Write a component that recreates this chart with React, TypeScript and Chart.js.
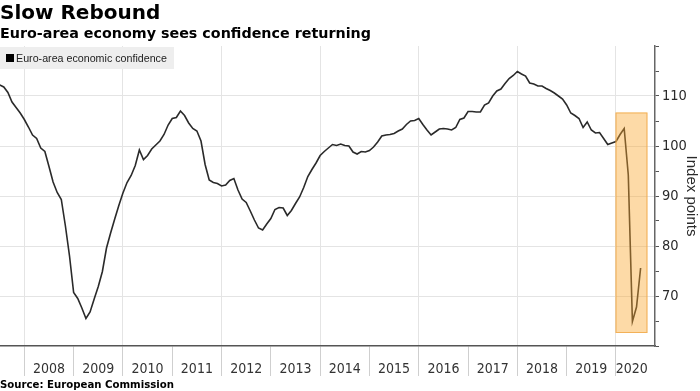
import React, { useEffect, useRef } from 'react';
import { Chart, registerables } from 'chart.js';

Chart.register(...registerables);

// Monthly Euro-area economic sentiment, Jun 2007 .. Jun 2020
const FIRST_POSITION = -6; // Jun 2007 plotted at its month end, in months from 1 Jan 2008
const confidence: number[] = [
  112.2, 111.8, 110.7, 108.8, 107.7, 106.6, 105.3,
  103.8, 102.2, 101.5, 99.6, 98.9, 95.9, 92.8, 90.7, 89.3, 84.0, 78.0, 70.7,
  69.5, 67.6, 65.5, 66.8, 69.4, 71.9, 74.9, 79.6, 82.6, 85.4, 88.1, 90.6,
  92.7, 94.1, 96.1, 99.2, 97.3, 98.1, 99.4, 100.2, 101.0, 102.3, 104.2, 105.5,
  105.7, 107.0, 106.1, 104.6, 103.5, 103.0, 101.0, 96.3, 93.2, 92.7, 92.5, 92.0,
  92.2, 93.1, 93.5, 91.2, 89.4, 88.7, 87.0, 85.2, 83.6, 83.2, 84.4, 85.5,
  87.3, 87.7, 87.6, 86.1, 87.1, 88.5, 89.8, 91.7, 93.9, 95.3, 96.6, 98.1,
  98.9, 99.6, 100.3, 100.1, 100.4, 100.1, 100.0, 98.8, 98.4, 98.9, 98.8, 99.1,
  99.8, 100.8, 102.0, 102.2, 102.3, 102.5, 103.0, 103.4, 104.3, 105.0, 105.1, 105.5,
  104.3, 103.2, 102.2, 102.8, 103.4, 103.5, 103.4, 103.2, 103.7, 105.3, 105.6, 106.9,
  106.9, 106.8, 106.8, 108.2, 108.6, 110.0, 111.0, 111.4, 112.5, 113.5, 114.1, 114.9,
  114.4, 114.0, 112.6, 112.4, 112.0, 112.0, 111.5, 111.1, 110.6, 110.0, 109.4, 108.2,
  106.6, 106.1, 105.5, 103.7, 104.8, 103.2, 102.6, 102.7, 101.5, 100.3, 100.6, 100.9,
  102.3, 103.5, 94.2, 64.9, 67.8, 75.6,
];

const yearLabels = ['2008', '2009', '2010', '2011', '2012', '2013', '2014', '2015', '2016', '2017', '2018', '2019', '2020'];
const yMajorTicks = [70, 80, 90, 100, 110];

const X_MIN = -5.92;
const X_MAX = 153.5;
const Y_MIN = 60;
const Y_MAX = 120;

// highlighted region (months from 1 Jan 2008, index points)
const highlightX = [143.9, 151.66];
const highlightY = [62.6, 106.7];

const yearStarts = yearLabels.map((_, i) => i * 12);
const labelCenters = yearLabels.map((_, i) => {
  const s = i * 12;
  const e = Math.min(s + 12, highlightX[1]);
  return (s + e) / 2;
});

const LABEL_FONT = "'Liberation Sans Narrow', 'DejaVu Sans Condensed', 'Liberation Sans', sans-serif";

const highlightPlugin = {
  id: 'highlightBox',
  afterDatasetsDraw(chart: any) {
    const { ctx, scales } = chart;
    const x = scales.x;
    const y = scales.y;
    const x0 = x.getPixelForValue(highlightX[0]);
    const x1 = x.getPixelForValue(highlightX[1]);
    const y0 = y.getPixelForValue(highlightY[1]);
    const y1 = y.getPixelForValue(highlightY[0]);
    ctx.save();
    ctx.fillStyle = 'rgba(250, 168, 45, 0.42)';
    ctx.fillRect(x0, y0, x1 - x0, y1 - y0);
    ctx.strokeStyle = 'rgba(242, 172, 80, 0.9)';
    ctx.lineWidth = 1;
    ctx.strokeRect(x0 + 0.5, y0 + 0.5, x1 - x0 - 1, y1 - y0 - 1);
    ctx.restore();
  },
};

export default function App() {
  const canvasRef = useRef<HTMLCanvasElement | null>(null);

  useEffect(() => {
    const canvas = canvasRef.current;
    if (!canvas) return;
    const points = confidence.map((v, i) => ({ x: FIRST_POSITION + i, y: v }));
    const tickDefs = [
      ...yearStarts.map((v) => ({ value: v })),
      ...labelCenters.map((v) => ({ value: v })),
    ].sort((a, b) => a.value - b.value);

    const isStart = (v: number) => yearStarts.some((s) => Math.abs(s - v) < 1e-6);
    const labelFor = (v: number) => {
      const idx = labelCenters.findIndex((c) => Math.abs(c - v) < 1e-6);
      return idx >= 0 ? yearLabels[idx] : '';
    };

    const chart = new Chart(canvas, {
      type: 'line',
      data: {
        datasets: [
          {
            label: 'Euro-area economic confidence',
            data: points,
            borderColor: '#2a2a2a',
            borderWidth: 1.6,
            pointRadius: 0,
            tension: 0,
            fill: false,
          },
        ],
      },
      options: {
        animation: false,
        responsive: false,
        maintainAspectRatio: false,
        layout: { padding: { top: 46, left: 0, right: 0, bottom: 0 } },
        plugins: {
          legend: { display: false },
          tooltip: { enabled: false },
        },
        scales: {
          x: {
            type: 'linear',
            min: X_MIN,
            max: X_MAX,
            afterBuildTicks: (scale: any) => {
              scale.ticks = tickDefs.map((d) => ({ value: d.value }));
            },
            afterFit: (scale: any) => {
              scale.height = 45;
            },
            grid: {
              drawOnChartArea: true,
              drawTicks: true,
              tickLength: 30,
              color: (ctx: any) => {
                const v = ctx.tick ? ctx.tick.value : NaN;
                if (isStart(v) && Math.round(v / 12) % 2 === 0) return '#e4e4e4';
                return 'rgba(0,0,0,0)';
              },
              tickColor: (ctx: any) => {
                const v = ctx.tick ? ctx.tick.value : NaN;
                return isStart(v) ? '#cfcfcf' : 'rgba(0,0,0,0)';
              },
              lineWidth: 1,
            },
            border: { display: true, color: '#555', width: 1.5 },
            ticks: {
              autoSkip: false,
              maxRotation: 0,
              minRotation: 0,
              padding: -15,
              color: '#333',
              font: { family: LABEL_FONT, size: 14 },
              callback: (value: any) => labelFor(Number(value)),
            },
          },
          y: {
            type: 'linear',
            position: 'right',
            min: Y_MIN,
            max: Y_MAX,
            afterFit: (scale: any) => {
              scale.width = 45;
            },
            grid: {
              drawOnChartArea: true,
              drawTicks: true,
              tickLength: 4,
              color: (ctx: any) =>
                ctx.tick && yMajorTicks.includes(ctx.tick.value) ? '#e4e4e4' : 'rgba(0,0,0,0)',
              tickColor: '#555',
            },
            border: { display: true, color: '#666', width: 1.5 },
            ticks: {
              stepSize: 5,
              padding: 3,
              color: '#2a2a2a',
              font: { family: LABEL_FONT, size: 14.5 },
              callback: (value: any) => (yMajorTicks.includes(Number(value)) ? String(value) : ''),
            },
            title: {
              display: true,
              text: 'Index points',
              color: '#2a2a2a',
              font: { family: "'Liberation Sans', sans-serif", size: 15 },
              padding: { top: 0, bottom: 0 },
            },
          },
        },
      },
      plugins: [highlightPlugin],
    } as any);

    return () => chart.destroy();
  }, []);

  return (
    <div
      style={{
        position: 'fixed',
        left: 0,
        top: 0,
        width: 700,
        height: 391,
        background: '#fff',
        overflow: 'hidden',
      }}
    >
      <canvas
        ref={canvasRef}
        width={700}
        height={391}
        style={{ position: 'absolute', left: 0, top: 0, width: 700, height: 391 }}
      />
      <div
        style={{
          position: 'absolute',
          left: 0,
          top: 2,
          fontFamily: "'DejaVu Sans', sans-serif",
          fontWeight: 'bold',
          fontSize: 20,
          lineHeight: 1,
          color: '#000',
          whiteSpace: 'nowrap',
        }}
      >
        Slow Rebound
      </div>
      <div
        style={{
          position: 'absolute',
          left: 0,
          top: 26,
          fontFamily: "'DejaVu Sans', sans-serif",
          fontWeight: 'bold',
          fontSize: 14.3,
          lineHeight: 1,
          color: '#000',
          whiteSpace: 'nowrap',
        }}
      >
        Euro-area economy sees confidence returning
      </div>
      <div
        style={{
          position: 'absolute',
          left: 0,
          top: 47,
          width: 174,
          height: 22,
          background: '#eeeeee',
          display: 'flex',
          alignItems: 'center',
        }}
      >
        <span
          style={{ display: 'inline-block', width: 8, height: 8, background: '#000', marginLeft: 6, marginRight: 2 }}
        />
        <span
          style={{
            fontFamily: "'Liberation Sans', sans-serif",
            fontSize: 10.7,
            color: '#222',
            whiteSpace: 'nowrap',
          }}
        >
          Euro-area economic confidence
        </span>
      </div>
      <div
        style={{
          position: 'absolute',
          left: 0,
          top: 379,
          fontFamily: "'DejaVu Sans Condensed', 'DejaVu Sans', sans-serif",
          fontWeight: 'bold',
          fontSize: 11.3,
          lineHeight: 1,
          color: '#000',
          whiteSpace: 'nowrap',
        }}
      >
        Source: European Commission
      </div>
    </div>
  );
}
